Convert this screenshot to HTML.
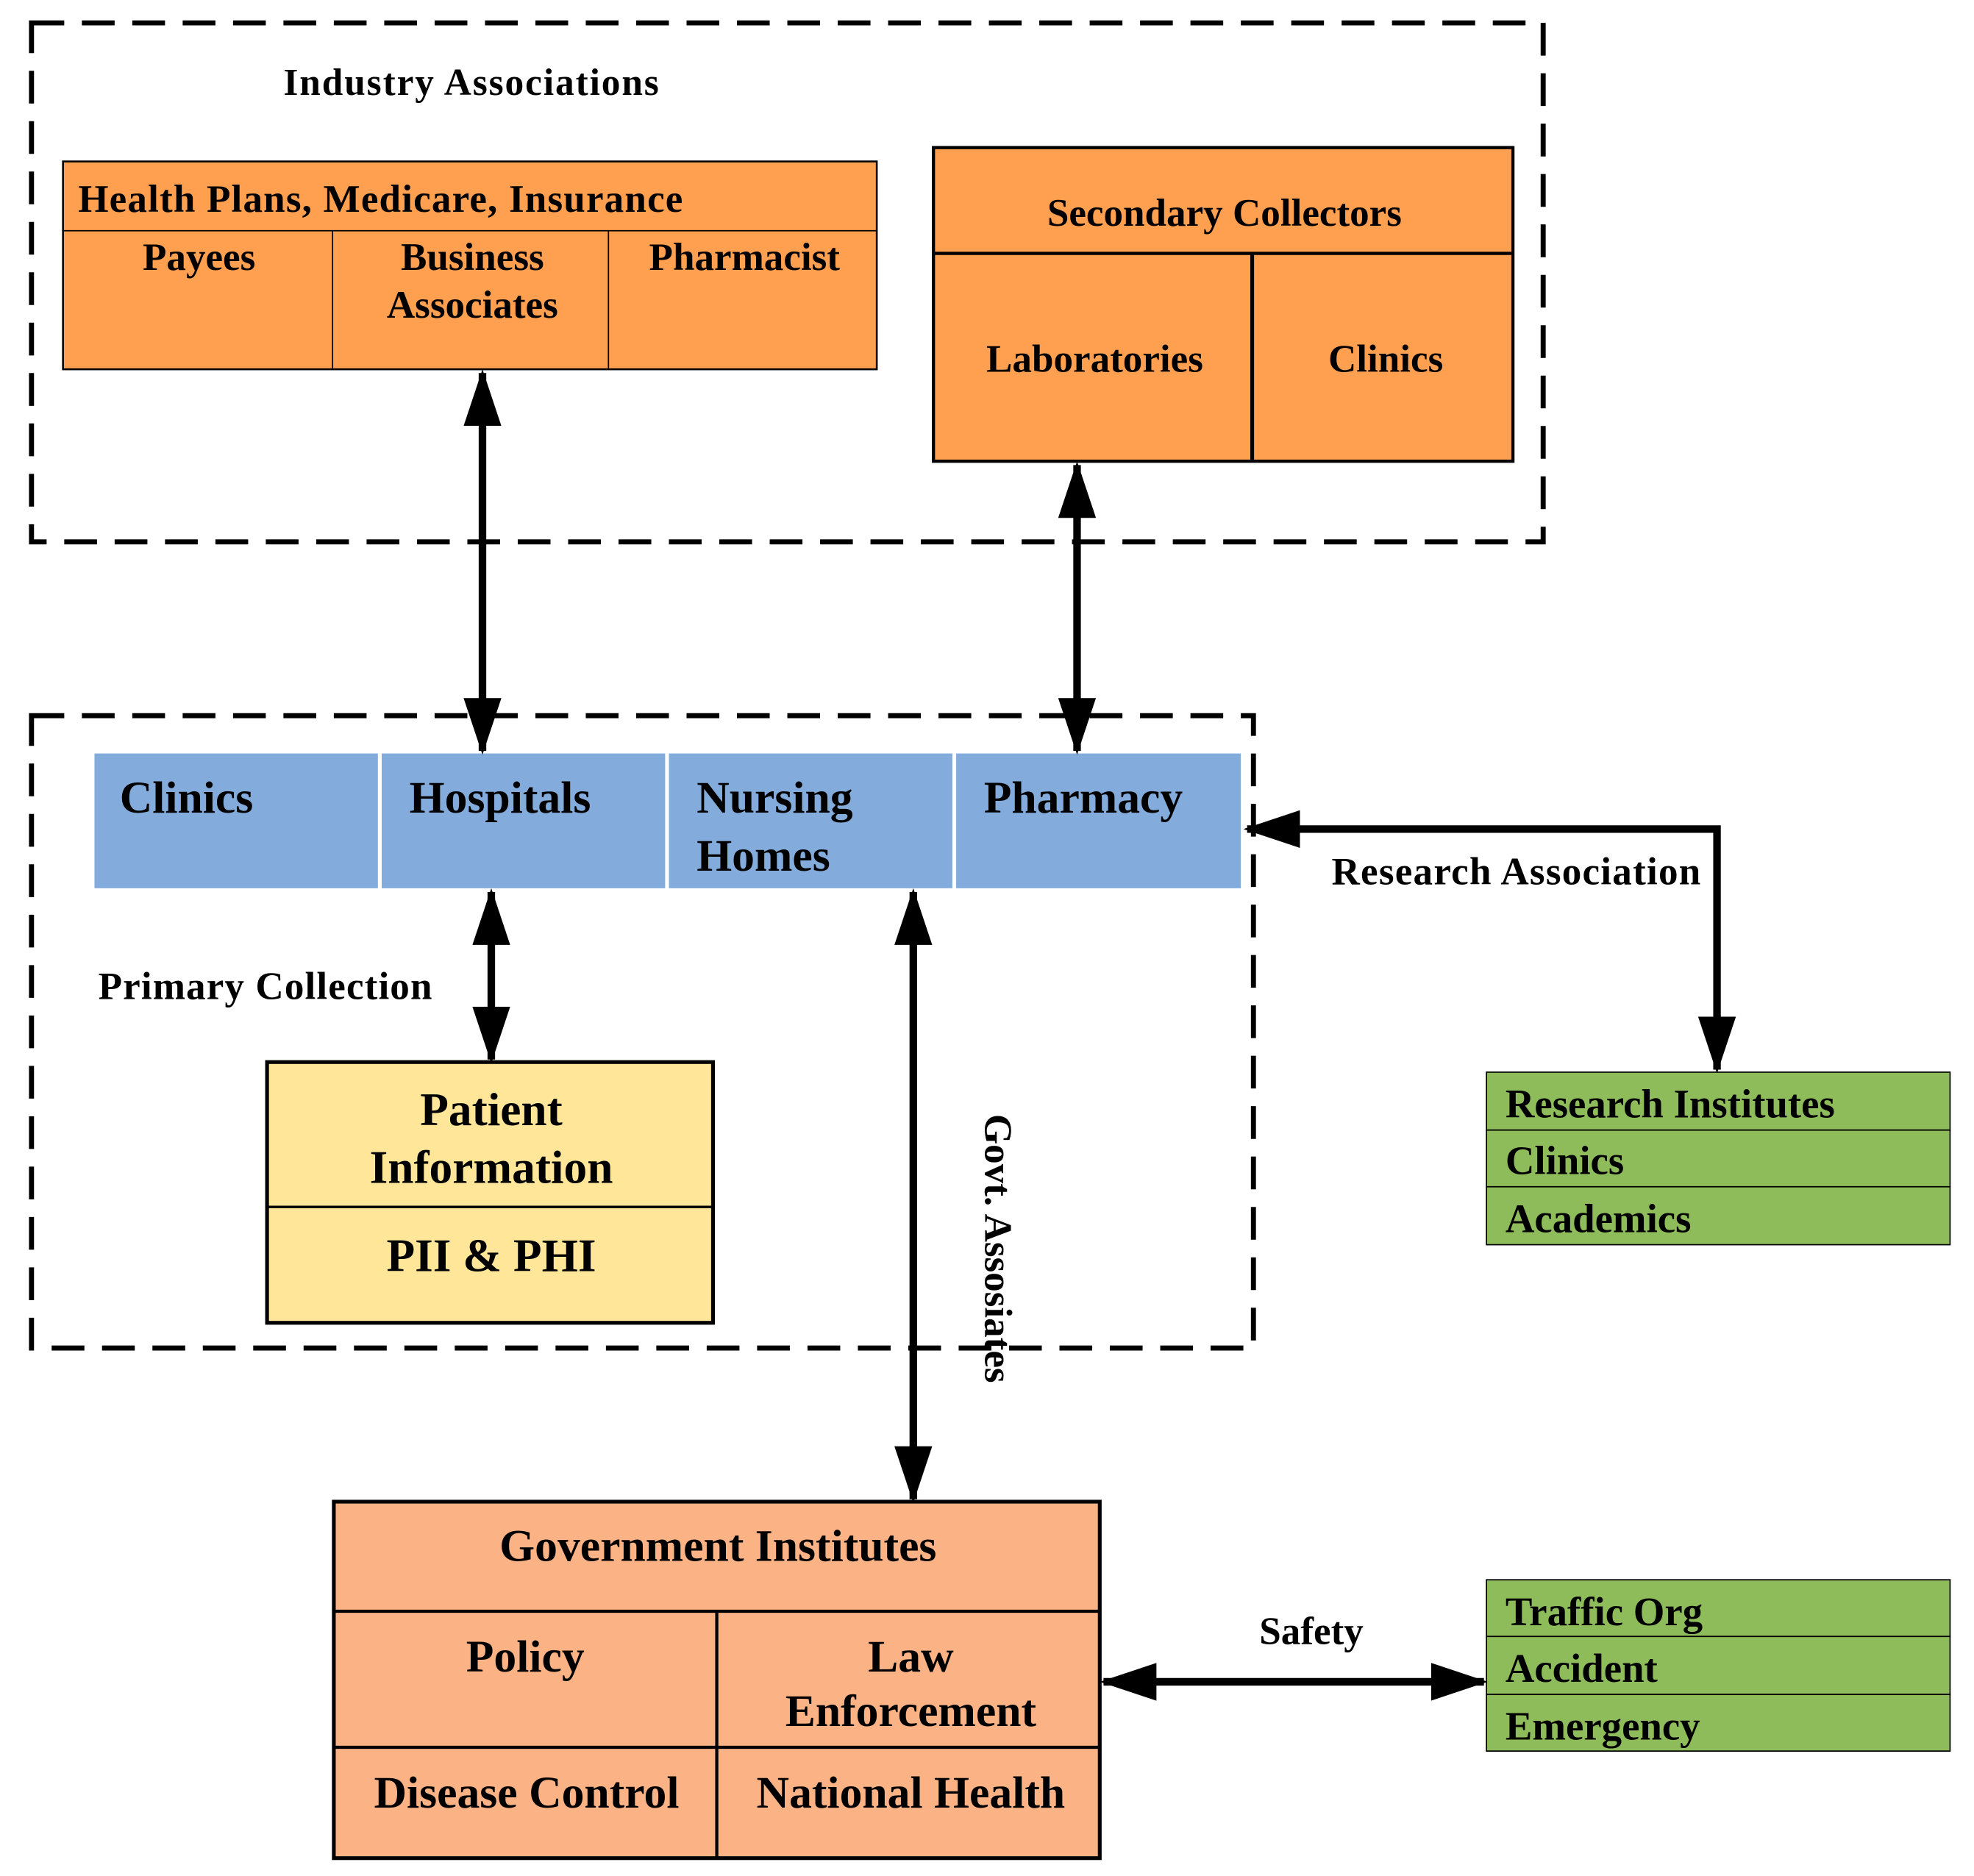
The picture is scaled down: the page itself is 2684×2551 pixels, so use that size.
<!DOCTYPE html>
<html><head><meta charset="utf-8"><style>html,body{margin:0;padding:0;background:#fff}svg{display:block}</style></head>
<body>
<svg width="2684" height="2551" viewBox="0 0 1567 1489" xmlns="http://www.w3.org/2000/svg" font-family="'Liberation Serif',serif" font-weight="bold">
<defs>
<marker id="a" viewBox="0 0 15 10" refX="14" refY="5" markerWidth="7.5" markerHeight="5" orient="auto-start-reverse" markerUnits="strokeWidth"><path d="M0,0 L15,5 L0,10 z" fill="#000"/></marker>
</defs>
<rect x="0" y="0" width="1567" height="1489" fill="#fff"/>
<rect x="25" y="18" width="1200" height="412" fill="none" stroke="#000" stroke-width="4" stroke-dasharray="26,14"/>
<rect x="25" y="568" width="970" height="502" fill="none" stroke="#000" stroke-width="4" stroke-dasharray="26,14"/>
<text x="225" y="75" font-size="30" textLength="298">Industry Associations</text>
<rect x="50" y="128" width="646" height="165" fill="#FF9F50" stroke="#000" stroke-width="1.5"/>
<line x1="50" y1="183" x2="696" y2="183" stroke="#000" stroke-width="1"/>
<line x1="264" y1="183" x2="264" y2="293" stroke="#000" stroke-width="1"/>
<line x1="483" y1="183" x2="483" y2="293" stroke="#000" stroke-width="1"/>
<g font-size="31">
<text x="62" y="168" textLength="480">Health Plans, Medicare, Insurance</text>
<text x="158" y="214" text-anchor="middle">Payees</text>
<text x="375" y="214" text-anchor="middle">Business</text>
<text x="375" y="252" text-anchor="middle">Associates</text>
<text x="591" y="214" text-anchor="middle">Pharmacist</text>
</g>
<rect x="741" y="117" width="460" height="249" fill="#FF9F50" stroke="#000" stroke-width="2.5"/>
<line x1="741" y1="201" x2="1201" y2="201" stroke="#000" stroke-width="2.5"/>
<line x1="994" y1="201" x2="994" y2="366" stroke="#000" stroke-width="3"/>
<g font-size="31" text-anchor="middle">
<text x="972" y="179">Secondary Collectors</text>
<text x="869" y="295">Laboratories</text>
<text x="1100" y="295">Clinics</text>
</g>
<g fill="#83ACDC">
<rect x="75" y="598" width="225" height="107"/>
<rect x="303" y="598" width="225" height="107"/>
<rect x="531" y="598" width="225" height="107"/>
<rect x="759" y="598" width="226" height="107"/>
</g>
<g font-size="36">
<text x="95" y="645">Clinics</text>
<text x="325" y="645">Hospitals</text>
<text x="553" y="645">Nursing</text>
<text x="553" y="691">Homes</text>
<text x="781" y="645">Pharmacy</text>
</g>
<rect x="212" y="843" width="354" height="207" fill="#FFE699" stroke="#000" stroke-width="3"/>
<line x1="212" y1="958" x2="566" y2="958" stroke="#000" stroke-width="2"/>
<g font-size="37" text-anchor="middle">
<text x="390" y="893">Patient</text>
<text x="390" y="939">Information</text>
<text x="390" y="1009">PII &amp; PHI</text>
</g>
<text x="78" y="793" font-size="31" textLength="265">Primary Collection</text>
<g stroke="#000" stroke-width="6" fill="none" marker-start="url(#a)" marker-end="url(#a)">
<line x1="383" y1="296" x2="383" y2="596"/>
<line x1="855" y1="369" x2="855" y2="596"/>
<line x1="390" y1="708" x2="390" y2="841"/>
<line x1="725" y1="708" x2="725" y2="1190"/>
<polyline points="990,658 1363,658 1363,849"/>
<line x1="876" y1="1335" x2="1178" y2="1335"/>
</g>
<text x="1057" y="702" font-size="31" textLength="293">Research Association</text>
<text transform="translate(782,991) rotate(90)" font-size="31" text-anchor="middle">Govt. Assosiates</text>
<text x="1041" y="1305" font-size="31" text-anchor="middle">Safety</text>
<g fill="#8FBC5A" stroke="#000" stroke-width="1">
<rect x="1180" y="851" width="368" height="46"/>
<rect x="1180" y="897" width="368" height="45"/>
<rect x="1180" y="942" width="368" height="46"/>
<rect x="1180" y="1254" width="368" height="45"/>
<rect x="1180" y="1299" width="368" height="46"/>
<rect x="1180" y="1345" width="368" height="45"/>
</g>
<g font-size="32">
<text x="1195" y="887">Research Institutes</text>
<text x="1195" y="932">Clinics</text>
<text x="1195" y="978">Academics</text>
<text x="1195" y="1290">Traffic Org</text>
<text x="1195" y="1335">Accident</text>
<text x="1195" y="1381">Emergency</text>
</g>
<rect x="265" y="1192" width="608" height="283" fill="#FBB385" stroke="#000" stroke-width="3"/>
<line x1="265" y1="1279" x2="873" y2="1279" stroke="#000" stroke-width="2.5"/>
<line x1="265" y1="1387" x2="873" y2="1387" stroke="#000" stroke-width="2.5"/>
<line x1="569" y1="1279" x2="569" y2="1475" stroke="#000" stroke-width="2.5"/>
<g font-size="36" text-anchor="middle">
<text x="570" y="1239">Government Institutes</text>
<text x="417" y="1327">Policy</text>
<text x="723" y="1327">Law</text>
<text x="723" y="1370">Enforcement</text>
<text x="418" y="1435">Disease Control</text>
<text x="723" y="1435">National Health</text>
</g>
</svg>
</body></html>
